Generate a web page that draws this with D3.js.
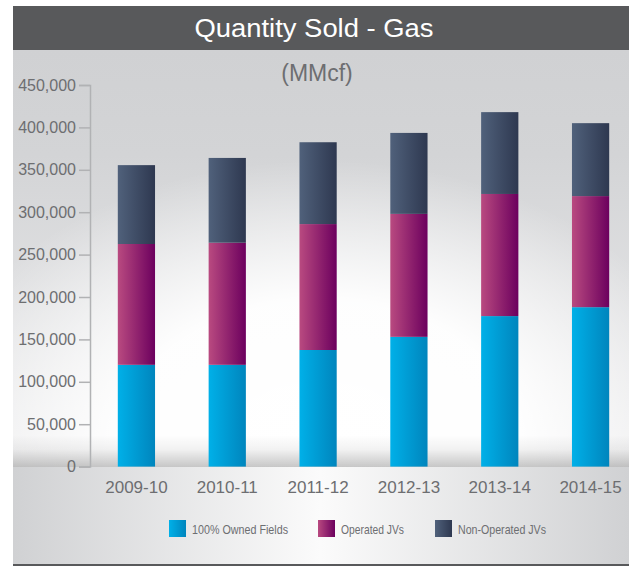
<!DOCTYPE html>
<html>
<head>
<meta charset="utf-8">
<script src="https://cdn.jsdelivr.net/npm/d3@7/dist/d3.min.js"></script>
<style>
	html, body { margin: 0; padding: 0; background: #fff; }
	svg { display: block; font-family: "Liberation Sans", Arial, sans-serif; }
</style>
</head>
<body>
<div id="chart"></div>
<script>
// 数据
var years = ['2009-10', '2010-11', '2011-12', '2012-13', '2013-14', '2014-15'];
var owned = [120000, 120000, 137500, 153000, 177500, 188000];
var operated = [142500, 144000, 148500, 145000, 144000, 131000];
var nonOperated = [93000, 100000, 96500, 95500, 96500, 86000];
var seriesNames = ['100% Owned Fields', 'Operated JVs', 'Non-Operated JVs'];
var yTicks = [0, 50000, 100000, 150000, 200000, 250000, 300000, 350000, 400000, 450000];

var W = 632, H = 567;
var panel = { x: 13, w: 616, top: 6, head: 50, base: 467, bottom: 564 };

var svg = d3.select('#chart').append('svg').attr('width', W).attr('height', H);
var defs = svg.append('defs');

// 渐变
function addStops(g, stops) {
	stops.forEach(function (s) {
		g.append('stop').attr('offset', s[0]).attr('stop-color', s[1]).attr('stop-opacity', s[2] == null ? 1 : s[2]);
	});
}
function hGrad(id, stops) {
	addStops(defs.append('linearGradient').attr('id', id).attr('x1', 0).attr('x2', 1).attr('y1', 0).attr('y2', 0), stops);
}
function vGrad(id, stops) {
	addStops(defs.append('linearGradient').attr('id', id).attr('x1', 0).attr('x2', 0).attr('y1', 0).attr('y2', 1), stops);
}
hGrad('g-owned', [[0, '#00b0e8'], [1, '#0085bd']]);
hGrad('g-operated', [[0, '#b94a80'], [1, '#6c005e']]);
hGrad('g-nonop', [[0, '#50617b'], [1, '#2e3850']]);
vGrad('g-upper', [[0, '#d0d1d3'], [0.25, '#d3d4d6'], [1, '#eeeeef']]);
hGrad('g-lower', [[0, '#d0d1d3'], [0.5, '#fbfbfb'], [1, '#d0d1d3']]);
vGrad('g-shadow', [[0, '#000', 0], [0.45, '#000', 0.05], [1, '#000', 0.22]]);
addStops(defs.append('radialGradient').attr('id', 'g-glow')
	.attr('gradientUnits', 'userSpaceOnUse').attr('cx', 321).attr('cy', 440).attr('r', 400)
	.attr('gradientTransform', 'translate(321,440) scale(1,0.7) translate(-321,-440)'),
	[[0, '#fff', 1], [0.5, '#fff', 0.95], [1, '#fff', 0]]);
var colors = ['url(#g-owned)', 'url(#g-operated)', 'url(#g-nonop)'];

// 背景
svg.append('rect').attr('x', panel.x).attr('y', panel.head).attr('width', panel.w).attr('height', panel.base - panel.head).attr('fill', 'url(#g-upper)');
svg.append('rect').attr('x', panel.x).attr('y', panel.head).attr('width', panel.w).attr('height', panel.base - panel.head).attr('fill', 'url(#g-glow)');
svg.append('rect').attr('x', panel.x).attr('y', panel.base - 32).attr('width', panel.w).attr('height', 32).attr('fill', 'url(#g-shadow)');
svg.append('rect').attr('x', panel.x).attr('y', panel.base).attr('width', panel.w).attr('height', panel.bottom - panel.base).attr('fill', 'url(#g-lower)');
svg.append('rect').attr('x', panel.x).attr('y', panel.bottom).attr('width', panel.w).attr('height', 2).attr('fill', '#58595b');

// 标题
svg.append('rect').attr('x', panel.x).attr('y', panel.top).attr('width', panel.w).attr('height', panel.head - panel.top).attr('fill', '#58595b');
svg.append('text').text('Quantity Sold - Gas').attr('x', 314).attr('y', 37).attr('text-anchor', 'middle')
	.attr('fill', '#fff').attr('font-size', 25).attr('textLength', 239).attr('lengthAdjust', 'spacingAndGlyphs');
svg.append('text').text('(MMcf)').attr('x', 317).attr('y', 81).attr('text-anchor', 'middle')
	.attr('fill', '#6d6e71').attr('font-size', 23);

// 比例尺
var x = d3.scaleBand().domain(years).range([91, 636]).paddingInner(0.59).paddingOuter(0.295);
var y = d3.scaleLinear().domain([0, 450000]).range([466.6, 85]);

var rows = years.map(function (d, i) {
	return { year: d, owned: owned[i], operated: operated[i], nonOperated: nonOperated[i] };
});
var stack = d3.stack().keys(['owned', 'operated', 'nonOperated'])(rows);

// 柱子
svg.append('g').selectAll('g').data(stack).join('g')
	.attr('fill', function (d, i) { return colors[i]; })
	.selectAll('rect').data(function (d) { return d; }).join('rect')
	.attr('x', function (d) { return x(d.data.year); })
	.attr('width', x.bandwidth())
	.attr('y', function (d) { return y(d[1]); })
	.attr('height', function (d) { return y(d[0]) - y(d[1]); });

// y轴
var gy = svg.append('g').attr('class', 'y-axis').attr('transform', 'translate(90,0)')
	.call(d3.axisLeft(y).tickValues(yTicks).tickFormat(d3.format(',')).tickSize(11).tickPadding(3));
gy.selectAll('path, line').attr('stroke', '#b1b2b4').attr('stroke-width', 1.5);
gy.selectAll('text').attr('fill', '#6d6e71').attr('font-size', 16).attr('font-family', '"Liberation Sans", Arial, sans-serif');

// x轴标签
svg.append('g').selectAll('text').data(years).join('text')
	.attr('x', function (d) { return x(d) + x.bandwidth() / 2; })
	.attr('y', 493)
	.attr('text-anchor', 'middle')
	.attr('fill', '#6d6e71').attr('font-size', 17)
	.text(function (d) { return d; });

// 图例
var legendX = [169, 318, 435];
var legendW = [96, 63, 88];
var lg = svg.append('g').selectAll('g').data(seriesNames).join('g')
	.attr('transform', function (d, i) { return 'translate(' + legendX[i] + ',520)'; });
lg.append('rect').attr('width', 17).attr('height', 17).attr('fill', function (d, i) { return colors[i]; });
lg.append('text').attr('x', 23).attr('y', 13.5).attr('fill', '#6d6e71').attr('font-size', 13)
	.attr('textLength', function (d, i) { return legendW[i]; }).attr('lengthAdjust', 'spacingAndGlyphs')
	.text(function (d) { return d; });
</script>
</body>
</html>
